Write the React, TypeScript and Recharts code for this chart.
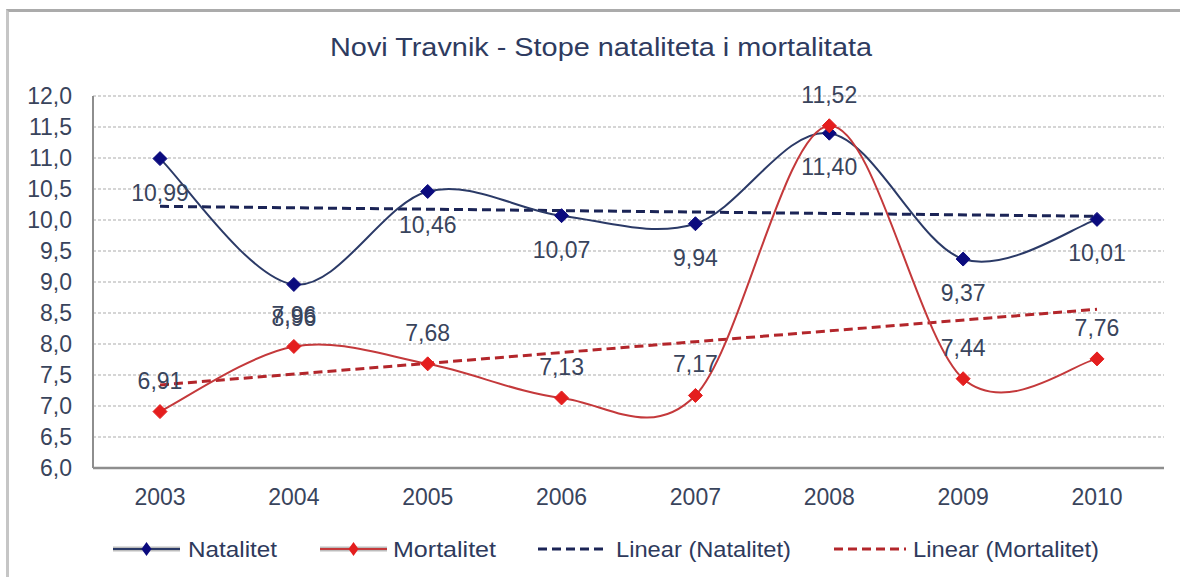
import React from 'react';
import { LineChart, Line, XAxis, YAxis, CartesianGrid, LabelList } from 'recharts';

const years = ['2003', '2004', '2005', '2006', '2007', '2008', '2009', '2010'];
const natalitet = [10.99, 8.96, 10.46, 10.07, 9.94, 11.4, 9.37, 10.01];
const mortalitet = [6.91, 7.96, 7.68, 7.13, 7.17, 11.52, 7.44, 7.76];
// linear trend lines, end values
const trendNatalitet = [10.22, null, null, null, null, null, null, 10.06];
const trendMortalitet = [7.34, null, null, null, null, null, null, 8.56];
const yTicks = [6, 6.5, 7, 7.5, 8, 8.5, 9, 9.5, 10, 10.5, 11, 11.5, 12];
const title = 'Novi Travnik - Stope nataliteta i mortalitata';
const legendNames = ['Natalitet', 'Mortalitet', 'Linear (Natalitet)', 'Linear (Mortalitet)'];

const data = years.map((y, i) => ({
  year: y,
  nat: natalitet[i],
  mort: mortalitet[i],
  tn: trendNatalitet[i],
  tm: trendMortalitet[i],
}));

const FONT = '"Liberation Sans", Arial, sans-serif';
const TEXT = '#39445C';
const NAT_LINE = '#2B3A67';
const NAT_DOT = '#0B0B7E';
const MORT_LINE = '#C4393B';
const MORT_DOT = '#E41E1E';
const NAT_TREND = '#1B2456';
const MORT_TREND = '#B3262B';

// Excel-like smoothed line (Catmull-Rom as cubic Bezier)
function excelSmooth(context: any) {
  let pts: number[][] = [];
  return {
    areaStart() {},
    areaEnd() {},
    lineStart() {
      pts = [];
    },
    point(x: number, y: number) {
      pts.push([+x, +y]);
    },
    lineEnd() {
      const n = pts.length;
      if (!n) return;
      context.moveTo(pts[0][0], pts[0][1]);
      for (let i = 0; i < n - 1; i++) {
        const p0 = pts[i - 1] || pts[i];
        const p1 = pts[i];
        const p2 = pts[i + 1];
        const p3 = pts[i + 2] || p2;
        const c1x = p1[0] + (p2[0] - p0[0]) / 6;
        const c1y = p1[1] + (p2[1] - p0[1]) / 6;
        const c2x = p2[0] - (p3[0] - p1[0]) / 6;
        const c2y = p2[1] - (p3[1] - p1[1]) / 6;
        context.bezierCurveTo(c1x, c1y, c2x, c2y, p2[0], p2[1]);
      }
    },
  };
}

const diamond = (color: string) => (props: any) => {
  const { cx, cy, index } = props;
  if (cx == null || cy == null) return <g key={`d${index}`} />;
  const r = 7;
  return (
    <path
      key={`d${index}`}
      d={`M${cx},${cy - r}L${cx + r},${cy}L${cx},${cy + r}L${cx - r},${cy}Z`}
      fill={color}
      stroke={color}
      strokeWidth={1}
    />
  );
};

const fmt = (v: number) => v.toFixed(2).replace('.', ',');

const labelAt = (dy: number) => (props: any) => {
  const { x, y, value, index } = props;
  return (
    <text
      key={`l${index}`}
      x={x}
      y={y + dy}
      textAnchor="middle"
      dominantBaseline="central"
      fontSize={23}
      fontFamily={FONT}
      fill={TEXT}
    >
      {fmt(value)}
    </text>
  );
};

const legendLayout = [
  { x1: 113, x2: 180, tx: 188, tl: 89, color: NAT_LINE, dot: NAT_DOT, dash: false },
  { x1: 320, x2: 387, tx: 393, tl: 103, color: MORT_LINE, dot: MORT_DOT, dash: false },
  { x1: 538, x2: 607, tx: 616, tl: 175, color: NAT_TREND, dot: null, dash: true },
  { x1: 834, x2: 906, tx: 913, tl: 186, color: MORT_TREND, dot: null, dash: true },
];

export default function App() {
  return (
    <div style={{ position: 'absolute', left: 0, top: 0, width: 1180, height: 577, background: '#fff', overflow: 'hidden' }}>
      <div
        style={{
          position: 'absolute',
          left: 6,
          top: 9,
          width: 1200,
          height: 600,
          borderLeft: '3px solid #C6C6C6',
          borderTop: '3px solid #ABABAB',
        }}
      />
      <div style={{ position: 'absolute', left: 0, top: 0 }}>
        <LineChart width={1180} height={577} data={data} margin={{ top: 96, right: 16, left: 0, bottom: 59 }}>
          <CartesianGrid vertical={false} stroke="#ABABAB" strokeDasharray="3 2" />
          <XAxis
            dataKey="year"
            height={50}
            padding={{ left: 67, right: 67 }}
            tickLine={false}
            tickMargin={15}
            axisLine={{ stroke: '#8E8E8E', strokeWidth: 2.5 }}
            tick={{ fontSize: 23, fill: TEXT, fontFamily: FONT }}
          />
          <YAxis
            width={93}
            domain={[6, 12]}
            ticks={yTicks}
            interval={0}
            tickLine={false}
            tickMargin={15}
            axisLine={{ stroke: '#8E8E8E', strokeWidth: 2 }}
            tickFormatter={(v: number) => v.toFixed(1).replace('.', ',')}
            tick={{ fontSize: 23, fill: TEXT, fontFamily: FONT }}
          />
          <Line
            dataKey="tn"
            type="linear"
            connectNulls
            stroke={NAT_TREND}
            strokeWidth={3}
            strokeDasharray="9 5"
            dot={false}
            activeDot={false}
            isAnimationActive={false}
          />
          <Line
            dataKey="tm"
            type="linear"
            connectNulls
            stroke={MORT_TREND}
            strokeWidth={3}
            strokeDasharray="9 5"
            dot={false}
            activeDot={false}
            isAnimationActive={false}
          />
          <Line
            dataKey="nat"
            type={excelSmooth as any}
            stroke={NAT_LINE}
            strokeWidth={2}
            dot={diamond(NAT_DOT)}
            activeDot={false}
            isAnimationActive={false}
          >
            <LabelList dataKey="nat" content={labelAt(34)} />
          </Line>
          <Line
            dataKey="mort"
            type={excelSmooth as any}
            stroke={MORT_LINE}
            strokeWidth={2}
            dot={diamond(MORT_DOT)}
            activeDot={false}
            isAnimationActive={false}
          >
            <LabelList dataKey="mort" content={labelAt(-31)} />
          </Line>
        </LineChart>
      </div>
      <svg width={1180} height={577} style={{ position: 'absolute', left: 0, top: 0, pointerEvents: 'none' }}>
        <text
          x={330}
          y={47}
          dominantBaseline="central"
          fontSize={26}
          fontFamily={FONT}
          fill="#2E3B60"
          textLength={542}
          lengthAdjust="spacingAndGlyphs"
        >
          {title}
        </text>
        {legendLayout.map((l, i) => (
          <g key={i}>
            {l.dash ? (
              <line x1={l.x1} y1={549} x2={l.x2} y2={549} stroke={l.color} strokeWidth={3} strokeDasharray="9 5" />
            ) : (
              <>
                <line x1={l.x1} y1={549} x2={l.x2} y2={549} stroke="#BDBDBD" strokeWidth={5} />
                <line x1={l.x1} y1={549} x2={l.x2} y2={549} stroke={l.color} strokeWidth={2} />
                <path
                  d={`M${(l.x1 + l.x2) / 2},${549 - 7}L${(l.x1 + l.x2) / 2 + 5},549L${(l.x1 + l.x2) / 2},${549 + 7}L${(l.x1 + l.x2) / 2 - 5},549Z`}
                  fill={l.dot as string}
                />
              </>
            )}
            <text
              x={l.tx}
              y={549}
              dominantBaseline="central"
              fontSize={22}
              fontFamily={FONT}
              fill="#2E3A5C"
              textLength={l.tl}
              lengthAdjust="spacingAndGlyphs"
            >
              {legendNames[i]}
            </text>
          </g>
        ))}
      </svg>
    </div>
  );
}
